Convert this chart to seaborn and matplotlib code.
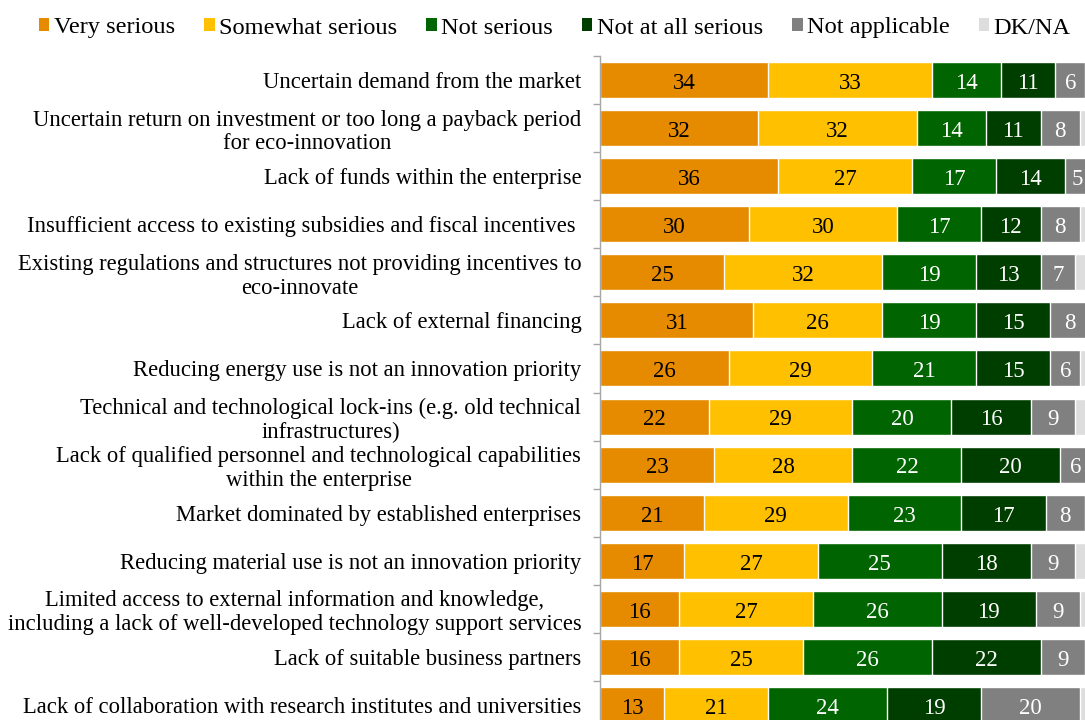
import numpy as np
import pandas as pd
import matplotlib
matplotlib.use("Agg")
import matplotlib.pyplot as plt
from matplotlib.patches import Patch
from matplotlib.ticker import FixedLocator
import seaborn as sns

# Barriers to eco-innovation, share of enterprises (%)
categories = [
    "Uncertain demand from the market",
    "Uncertain return on investment or too long a payback period\nfor eco-innovation",
    "Lack of funds within the enterprise",
    "Insufficient access to existing subsidies and fiscal incentives ",
    "Existing regulations and structures not providing incentives to\neco-innovate",
    "Lack of external financing",
    "Reducing energy use is not an innovation priority",
    "Technical and technological lock-ins (e.g. old technical\ninfrastructures)",
    "Lack of qualified personnel and technological capabilities\nwithin the enterprise",
    "Market dominated by established enterprises",
    "Reducing material use is not an innovation priority",
    "Limited access to external information and knowledge,\nincluding a lack of well-developed technology support services",
    "Lack of suitable business partners",
    "Lack of collaboration with research institutes and universities",
]

series_names = ["Very serious", "Somewhat serious", "Not serious",
                "Not at all serious", "Not applicable", "DK/NA"]

very_serious = [34, 32, 36, 30, 25, 31, 26, 22, 23, 21, 17, 16, 16, 13]
somewhat_serious = [33, 32, 27, 30, 32, 26, 29, 29, 28, 29, 27, 27, 25, 21]
not_serious = [14, 14, 17, 17, 19, 19, 21, 20, 22, 23, 25, 26, 26, 24]
not_at_all_serious = [11, 11, 14, 12, 13, 15, 15, 16, 20, 17, 18, 19, 22, 19]
not_applicable = [6, 8, 5, 8, 7, 8, 6, 9, 6, 8, 9, 9, 9, 20]
dk_na = [2, 3, 1, 3, 4, 1, 3, 4, 1, 2, 4, 3, 2, 3]

colors = ["#E68A00", "#FFC000", "#006400", "#003E00", "#808080", "#DDDDDD"]
label_colors = ["black", "black", "white", "white", "white", None]

values = np.array([very_serious, somewhat_serious, not_serious,
                   not_at_all_serious, not_applicable, dk_na], dtype=float)
cumulative = values.cumsum(axis=0)
lefts = cumulative - values

SERIF = ["Liberation Serif", "DejaVu Serif"]

sns.set_theme(style="white")
plt.rcParams["font.family"] = SERIF
plt.rcParams["font.serif"] = SERIF
plt.rcParams["text.color"] = "black"
plt.rcParams["ytick.labelcolor"] = "black"

W, H = 1085, 720
fig = plt.figure(figsize=(W / 100, H / 100), dpi=100)
ax_left, ax_top, ax_right, ax_bottom = 600, 56, 1095, 729
ax = fig.add_axes([ax_left / W, 1 - ax_bottom / H,
                   (ax_right - ax_left) / W, (ax_bottom - ax_top) / H])

# Stacked bars: draw cumulative totals from the outermost segment inward
for k in range(len(series_names) - 1, -1, -1):
    df = pd.DataFrame({"category": categories, "total": cumulative[k]})
    sns.barplot(data=df, x="total", y="category", orient="h", color=colors[k],
                saturation=1, width=0.75, edgecolor="white", linewidth=1.0,
                ax=ax)

# Segment value labels
for k in range(len(series_names)):
    if label_colors[k] is None:
        continue
    for i in range(len(categories)):
        v = values[k, i]
        ax.text(lefts[k, i] + v / 2, i + 0.07, f"{int(v)}", ha="center",
                va="center", fontsize=16.5, color=label_colors[k],
                family=SERIF)

ax.set_xlim(0, 100)
ax.set_ylim(len(categories) - 0.5, -0.5)
ax.set_xlabel("")
ax.set_ylabel("")
ax.xaxis.set_visible(False)
for side in ["top", "right", "bottom"]:
    ax.spines[side].set_visible(False)
ax.spines["left"].set_color("#A6A6A6")
ax.spines["left"].set_linewidth(1.0)

ax.yaxis.set_minor_locator(FixedLocator(np.arange(-0.5, len(categories), 1)))
ax.tick_params(axis="y", which="major", length=0, pad=13.5, labelsize=16.3,
               labelcolor="black")
ax.tick_params(axis="y", which="minor", length=5, width=1.0,
               color="#A6A6A6", left=True)
for lbl in ax.get_yticklabels():
    lbl.set_family(SERIF)
    lbl.set_multialignment("center")
    lbl.set_linespacing(1.17)

handles = [Patch(facecolor=c, edgecolor="none") for c in colors]
fig.legend(handles, series_names, loc="center",
           bbox_to_anchor=(0.5115, 1 - 28 / H),
           ncol=6, frameon=False, prop={"family": SERIF, "size": 17.6},
           handlelength=0.42, handleheight=0.42, handletextpad=0.18,
           columnspacing=1.2, borderaxespad=0)

fig.savefig("out.png", dpi=100)
